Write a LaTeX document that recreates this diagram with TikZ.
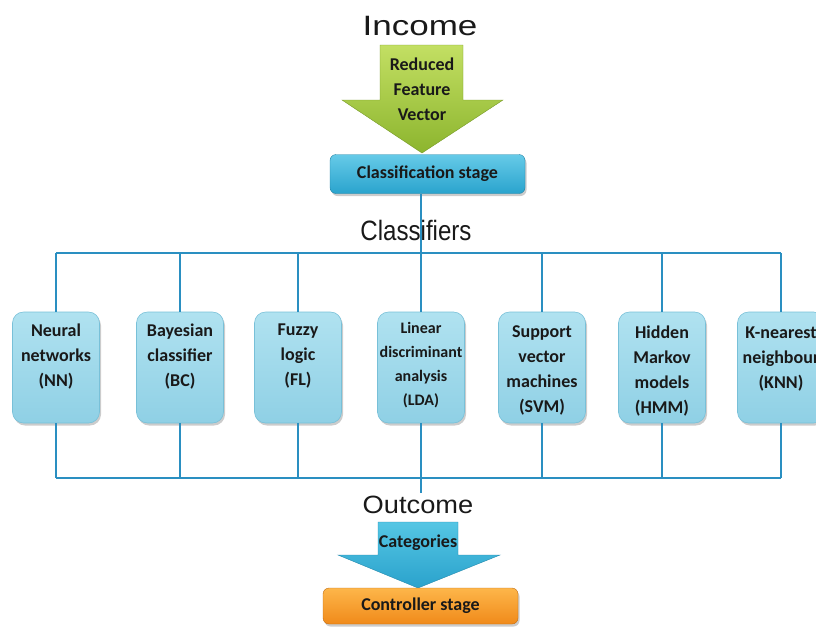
\documentclass[tikz,border=0pt]{standalone}
\usepackage{fontspec}
\setmainfont{Carlito}
\newfontfamily\headfont{Liberation Sans}
\usetikzlibrary{shadows}
\definecolor{busblue}{HTML}{2A8FC1}
\definecolor{boxtop}{HTML}{B0E2F0}
\definecolor{boxbot}{HTML}{8FD0E5}
\definecolor{boxedge}{HTML}{78C0D8}
\definecolor{stagetop}{HTML}{66CBE8}
\definecolor{stagebot}{HTML}{2AA3CD}
\definecolor{greentop}{HTML}{C3DF63}
\definecolor{greenbot}{HTML}{8CB52E}
\definecolor{cyantop}{HTML}{55C6E4}
\definecolor{cyanbot}{HTML}{2AA2CC}
\definecolor{orangetop}{HTML}{FDB64A}
\definecolor{orangebot}{HTML}{F08A1A}
\begin{document}
\begin{tikzpicture}[x=1pt,y=-1pt,
  bus/.style={draw=busblue, line width=1.5pt},
  softshadow/.style={drop shadow={opacity=0.4, shadow xshift=1.5pt, shadow yshift=-2.5pt}},
  clsbox/.style={rounded corners=11pt, minimum width=87pt, minimum height=111pt,
    top color=boxtop, bottom color=boxbot, draw=boxedge, line width=0.6pt, softshadow},
  clstext/.style={font=\bfseries\fontsize{18}{25}\selectfont, align=center, inner sep=0pt, anchor=north, text=black!90},
  smalltext/.style={clstext, font=\bfseries\fontsize{16}{24}\selectfont},
  stagebox/.style={rounded corners=6pt, minimum height=39pt, inner sep=0pt,
    font=\bfseries\fontsize{18}{22}\selectfont, text=black!90, softshadow},
  headtext/.style={font=\headfont, inner sep=0pt, anchor=base, text=black!90},
  arrowtext/.style={font=\bfseries\fontsize{18}{25}\selectfont, align=center, inner sep=0pt, text=black!90}
]
\useasboundingbox (0,0) rectangle (816,627);

% heading over the input arrow
\node[headtext] (income) at (420,35) {\fontsize{28}{30}\selectfont\scalebox{1.25}[1]{Income}};

% input arrow
\shade[top color=greentop, bottom color=greenbot, draw=greenbot!85!black, line width=0.4pt]
  (380,45) -- (463,45) -- (463,100) -- (503,100) -- (422,153) -- (342,100) -- (380,100) -- cycle;
\node[arrowtext] (feature) at (422,89) {Reduced\\Feature\\Vector};

% classification stage
\node[stagebox, minimum width=195pt, top color=stagetop, bottom color=stagebot, draw=stagebot!80!black, line width=0.4pt]
  (cls) at (427.5,174) {Classification stage};

% classifier boxes
\node[clsbox] (nn)  at (56,367.5) {};
\node[clsbox] (bc)  at (180,367.5) {};
\node[clsbox] (fl)  at (298,367.5) {};
\node[clsbox] (lda) at (421,367.5) {};
\node[clsbox] (svm) at (542,367.5) {};
\node[clsbox] (hmm) at (662,367.5) {};
\node[clsbox] (knn) at (781,367.5) {};

\node[clstext]  (nnt)  at ([yshift=-12pt]nn.north)  {Neural\\networks\\(NN)};
\node[clstext]  (bct)  at ([yshift=-12pt]bc.north)  {Bayesian\\classifier\\(BC)};
\node[clstext]  (flt)  at ([yshift=-12pt]fl.north)  {Fuzzy\\logic\\(FL)};
\node[smalltext] (ldat) at ([yshift=-10pt]lda.north) {Linear\\discriminant\\analysis\\(LDA)};
\node[clstext]  (svmt) at ([yshift=-14pt]svm.north) {Support\\vector\\machines\\(SVM)};
\node[clstext]  (hmmt) at ([yshift=-14pt]hmm.north) {Hidden\\Markov\\models\\(HMM)};
\node[clstext]  (knnt) at ([yshift=-15pt]knn.north) {K-nearest\\neighbour\\(KNN)};

% bus junctions
\foreach \n in {nn,bc,fl,lda,svm,hmm,knn}{
  \coordinate (t\n) at (\n.north |- 0,253);
  \coordinate (b\n) at (\n.south |- 0,478);
}
\coordinate (outtop) at (lda.south |- 0,493);

% heading of the classifier row
\node[headtext] (classif) at (416,240) {\fontsize{28}{30}\selectfont\scalebox{0.86}[1]{Classifiers}};

% connectors
\draw[bus] (tnn) -- (tknn);
\draw[bus] (bnn) -- (bknn);
\foreach \n in {nn,bc,fl,svm,hmm,knn}{
  \draw[bus] (t\n) -- (\n.north);
  \draw[bus] (\n.south) -- (b\n);
}
\draw[bus] (cls.south -| lda.north) -- (lda.north);
\draw[bus] (lda.south) -- (outtop);

% output heading and arrow
\node[headtext] (outcome) at (418,513) {\fontsize{25}{28}\selectfont\scalebox{1.09}[1]{Outcome}};
\shade[top color=cyantop, bottom color=cyanbot, draw=cyanbot!85!black, line width=0.4pt]
  (378,522) -- (458,522) -- (458,555) -- (500,555) -- (418,588) -- (338,555) -- (378,555) -- cycle;
\node[arrowtext] (cat) at (418,543) {Categories};

% controller stage
\node[stagebox, minimum width=195pt, minimum height=36pt, top color=orangetop, bottom color=orangebot, draw=orangebot!80!black, line width=0.4pt]
  (ctrl) at (420.5,606) {Controller stage};
\end{tikzpicture}
\end{document}
